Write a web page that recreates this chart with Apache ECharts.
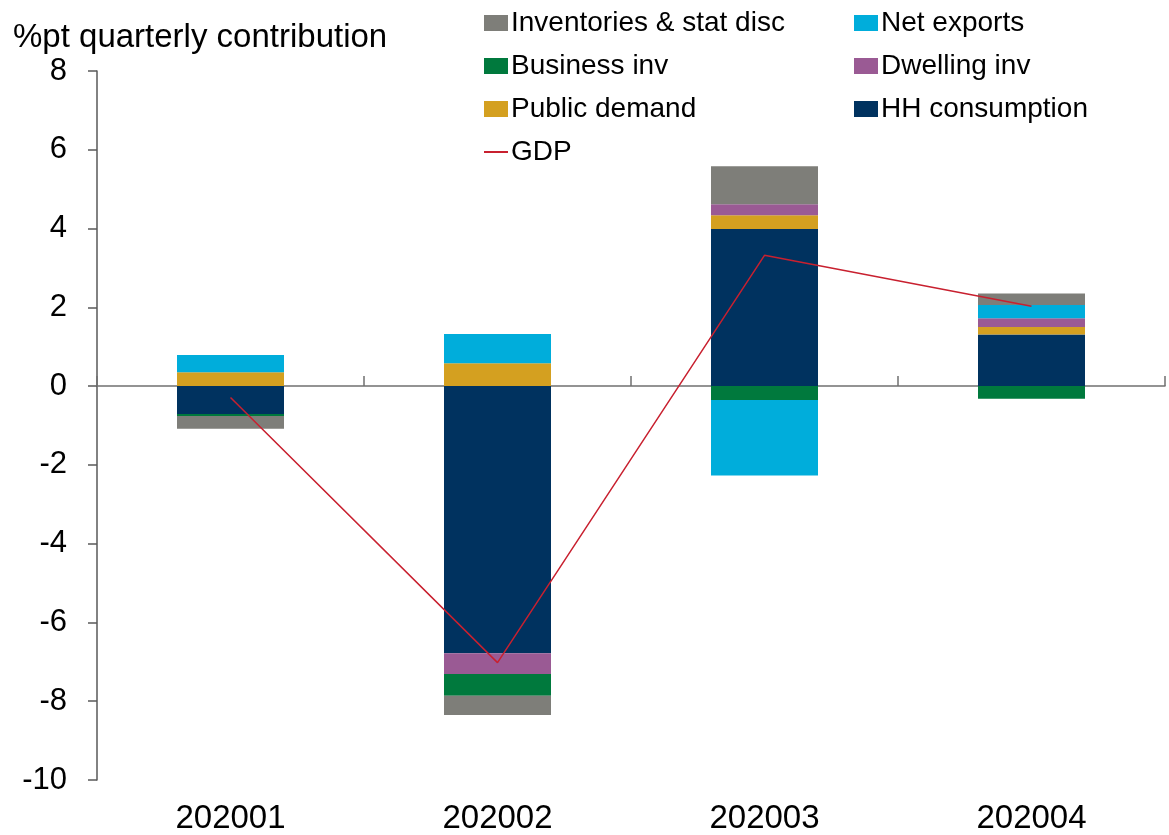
<!DOCTYPE html>
<html>
<head>
<meta charset="utf-8">
<script src="https://cdn.jsdelivr.net/npm/echarts@6/dist/echarts.min.js"></script>
<style>
html,body{margin:0;padding:0;background:#fff;}
#chart{width:1169px;height:835px;}
</style>
</head>
<body>
<div id="chart"></div>
<script>
const categories = ['202001', '202002', '202003', '202004'];
const hhConsumption = [-0.71, -6.78, 3.99, 1.31];
const publicDemand = [0.35, 0.58, 0.35, 0.19];
const dwellingInv = [0, -0.53, 0.28, 0.22];
const businessInv = [-0.05, -0.55, -0.35, -0.32];
const netExports = [0.44, 0.74, -1.92, 0.34];
const inventories = [-0.32, -0.49, 0.96, 0.29];
const gdp = [-0.29, -7.02, 3.32, 2.03];
const yTicks = { min: -10, max: 8, interval: 2 };

const FONT = "'Liberation Sans', Arial, sans-serif";
const colors = {
  hh: '#00325F',
  pub: '#D4A020',
  dwell: '#9A5A94',
  bus: '#00793D',
  net: '#00ADDB',
  inv: '#7E7E79',
  gdp: '#C8202F'
};

function bar(name, data, color) {
  return {
    name: name, type: 'bar', stack: 'total', data: data,
    xAxisIndex: 0, yAxisIndex: 0, barWidth: 107,
    itemStyle: { color: color },
    emphasis: { disabled: true }
  };
}

const chart = echarts.init(document.getElementById('chart'), null, { renderer: 'canvas' });
const legendText = { fontFamily: FONT, fontSize: 28, color: '#000', lineHeight: 30 };
chart.setOption({
  animation: false,
  textStyle: { fontFamily: FONT },
  title: {
    text: '%pt quarterly contribution',
    left: 8, top: 16,
    textStyle: { fontFamily: FONT, fontSize: 33, fontWeight: 'normal', color: '#000' }
  },
  legend: [
    {
      orient: 'vertical', left: 479, top: 3, itemGap: 13,
      itemWidth: 24, itemHeight: 16, icon: 'rect',
      textStyle: Object.assign({ padding: [0, 0, 0, -2] }, legendText),
      data: ['Inventories & stat disc', 'Business inv', 'Public demand']
    },
    {
      orient: 'vertical', left: 849, top: 3, itemGap: 13,
      itemWidth: 24, itemHeight: 16, icon: 'rect',
      textStyle: Object.assign({ padding: [0, 0, 0, -2] }, legendText),
      data: ['Net exports', 'Dwelling inv', 'HH consumption']
    },
    {
      orient: 'vertical', left: 479, top: 132,
      itemWidth: 24, itemHeight: 2, icon: 'rect',
      textStyle: Object.assign({ padding: [0, 0, 0, -2] }, legendText),
      data: ['GDP']
    }
  ],
  grid: { left: 97, right: 4, top: 71, bottom: 55, containLabel: false },
  xAxis: [
    {
      type: 'category', data: categories, position: 'bottom',
      axisLine: { show: false, onZero: false },
      axisTick: { show: false },
      axisLabel: { fontFamily: FONT, fontSize: 33, color: '#000', margin: 22 },
      splitLine: { show: false }
    },
    {
      type: 'category', data: categories, position: 'top',
      axisLine: { show: true, onZero: true, lineStyle: { color: '#707070', width: 1.5 } },
      axisTick: { show: true, length: 10, lineStyle: { color: '#707070', width: 1.5 } },
      axisLabel: { show: false },
      splitLine: { show: false }
    }
  ],
  yAxis: {
    type: 'value', min: yTicks.min, max: yTicks.max, interval: yTicks.interval,
    axisLine: { show: true, lineStyle: { color: '#595959', width: 1.5 } },
    axisTick: { show: true, length: 9, lineStyle: { color: '#595959', width: 1.5 } },
    axisLabel: { fontFamily: FONT, fontSize: 31, color: '#000', margin: 30 },
    splitLine: { show: false }
  },
  series: [
    bar('HH consumption', hhConsumption, colors.hh),
    bar('Public demand', publicDemand, colors.pub),
    bar('Dwelling inv', dwellingInv, colors.dwell),
    bar('Business inv', businessInv, colors.bus),
    bar('Net exports', netExports, colors.net),
    bar('Inventories & stat disc', inventories, colors.inv),
    {
      name: 'GDP', type: 'line', data: gdp, xAxisIndex: 0, yAxisIndex: 0,
      symbol: 'none', showSymbol: false,
      lineStyle: { color: colors.gdp, width: 1.5 },
      itemStyle: { color: colors.gdp },
      z: 10, emphasis: { disabled: true }
    }
  ]
});
</script>
</body>
</html>
